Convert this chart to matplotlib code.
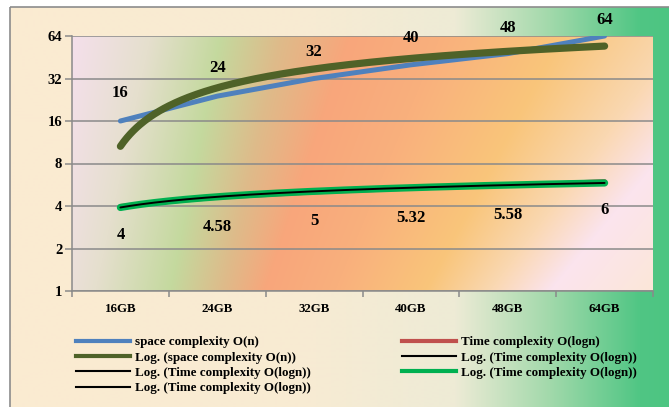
import numpy as np
import matplotlib
matplotlib.use("Agg")
import matplotlib.pyplot as plt
from matplotlib.colors import to_rgb
from matplotlib.lines import Line2D
from matplotlib.patches import Rectangle

W, H = 669, 407

# data
categories = ["16GB", "24GB", "32GB", "40GB", "48GB", "64GB"]
space_n = [16, 24, 32, 40, 48, 64]
time_logn = [4, 4.58, 5, 5.32, 5.58, 6]
space_labels = ["16", "24", "32", "40", "48", "64"]
time_labels = ["4", "4.58", "5", "5.32", "5.58", "6"]
y_ticks = [1, 2, 4, 8, 16, 32, 64]

BLUE = "#4F81BD"
OLIVE = "#4F6228"
RED = "#C0504D"
GREEN = "#00B050"
GRID = "#8A8A8A"

SERIF = ["Liberation Serif", "DejaVu Serif"]
plt.rcParams["font.family"] = SERIF
plt.rcParams["font.weight"] = "bold"

# plot area in pixels (left, top, right, bottom)
PL, PT, PR, PB = 72, 36, 653, 291


def px_box(l, t, r, b):
    return [l / W, 1 - b / H, (r - l) / W, (b - t) / H]


def hgrad(stops, x):
    xs = [s[0] for s in stops]
    cols = np.array([to_rgb(s[1]) for s in stops])
    return np.stack([np.interp(x, xs, cols[:, k]) for k in range(3)], axis=-1)


fig = plt.figure(figsize=(W / 100, H / 100), dpi=100)
fig.patch.set_facecolor("white")

# chart area: cream fading into green on the right
bg = fig.add_axes([0, 0, 1, 1], zorder=-2)
bg.set_xlim(0, W)
bg.set_ylim(H, 0)
bg.axis("off")
outer_stops = [(0, "#FBEBD1"), (300, "#F8EBD3"), (455, "#EEEBD6"),
               (550, "#A2D9AB"), (640, "#50C684"), (669, "#4DC582")]
xs = np.arange(10, W + 1)
img = hgrad(outer_stops, xs)[None, :, :]
bg.imshow(img, extent=[10, W, H, 7], aspect="auto", interpolation="bilinear")
bg.add_patch(Rectangle((10, 7), W, H, fill=False, ec="#8C8C8C", lw=1.2))

# plot area: sunset gradient, stops drift left towards the bottom
inner = [  # colour, x at top, x at bottom
    ("#F7E0F0", 60, 20), ("#E5DFCD", 150, 95), ("#C4D99E", 220, 170),
    ("#DEBB8A", 280, 222), ("#F8A67B", 350, 265), ("#F9B07D", 440, 335),
    ("#F9C57A", 560, 425), ("#FAD8B2", 680, 490), ("#FBE4EE", 760, 550),
    ("#FBE8D0", 900, 690),
]
cols = np.array([to_rgb(c) for c, _, _ in inner])
px = np.arange(PL, PR)
rows = []
for v in np.linspace(0, 1, PB - PT):
    pos = [t + v * (b - t) for _, t, b in inner]
    rows.append(np.stack([np.interp(px, pos, cols[:, k]) for k in range(3)], axis=-1))
bga = fig.add_axes(px_box(PL, PT, PR, PB), zorder=-1)
bga.imshow(np.array(rows), aspect="auto", extent=[0, 1, 0, 1], interpolation="bilinear")
bga.axis("off")

ax = fig.add_axes(px_box(PL, PT, PR, PB), zorder=1)
ax.patch.set_alpha(0)

x = np.arange(len(categories))
xd = np.linspace(1, len(categories), 300)

# logarithmic trendlines fitted to each series
a_s, b_s = np.polyfit(np.log(x + 1), space_n, 1)
a_t, b_t = np.polyfit(np.log(x + 1), time_logn, 1)

kw = dict(solid_capstyle="round")
ax.plot(x, space_n, color=BLUE, lw=3.6, zorder=3, **kw)
ax.plot(xd - 1, a_s * np.log(xd) + b_s, color=OLIVE, lw=5.2, zorder=4, **kw)
ax.plot(x, time_logn, color=RED, lw=3.0, zorder=3, **kw)
ax.plot(xd - 1, a_t * np.log(xd) + b_t, color=GREEN, lw=5.2, zorder=4, **kw)
ax.plot(xd - 1, a_t * np.log(xd) + b_t, color="black", lw=1.4, zorder=5, **kw)

rise = [28, 28, 26, 27, 26, 16]
for xi, v, s, r in zip(x, space_n, space_labels, rise):
    ax.annotate(s, (xi, v), xytext=(0, r), textcoords="offset pixels",
                ha="center", va="center", fontsize=12, fontweight="bold")
for xi, v, s in zip(x, time_logn, time_labels):
    ax.annotate(s, (xi, v), xytext=(0, -29), textcoords="offset pixels",
                ha="center", va="center", fontsize=12, fontweight="bold")

ax.set_yscale("log", base=2)
ax.set_ylim(1, 64)
ax.set_yticks(y_ticks)
ax.set_yticklabels([str(t) for t in y_ticks], fontsize=10.5, fontweight="bold")
ax.minorticks_off()
ax.set_xlim(-0.5, len(categories) - 0.5)
ax.set_xticks(x)
ax.set_xticklabels(categories, fontsize=9.3, fontweight="bold")
ax.set_xticks(np.arange(len(categories) + 1) - 0.5, minor=True)
ax.tick_params(axis="x", which="major", length=0, pad=9)
ax.tick_params(axis="x", which="minor", length=4, color=GRID, width=1.1)
ax.tick_params(axis="y", length=5, color=GRID, width=1.1, pad=2)
ax.grid(axis="y", color=GRID, lw=1.1)
ax.set_axisbelow(True)
for s in ("top", "right"):
    ax.spines[s].set_visible(False)
for s in ("left", "bottom"):
    ax.spines[s].set_color(GRID)
    ax.spines[s].set_linewidth(1.1)

handles = [
    Line2D([], [], color=BLUE, lw=3),
    Line2D([], [], color=OLIVE, lw=3),
    Line2D([], [], color="black", lw=1.5),
    Line2D([], [], color="black", lw=1.5),
    Line2D([], [], color=RED, lw=3),
    Line2D([], [], color="black", lw=1.5),
    Line2D([], [], color=GREEN, lw=3),
]
labels = [
    "space complexity O(n)",
    "Log. (space complexity O(n))",
    "Log. (Time complexity O(logn))",
    "Log. (Time complexity O(logn))",
    "Time complexity O(logn)",
    "Log. (Time complexity O(logn))",
    "Log. (Time complexity O(logn))",
]
fig.legend(handles, labels, ncol=2, loc="upper left",
           bbox_to_anchor=(76 / W, 1 - 336 / H), frameon=False, borderpad=0,
           borderaxespad=0, handlelength=4.1, handletextpad=0.4,
           columnspacing=7.0, labelspacing=0.25,
           prop=dict(family=SERIF, weight="bold", size=9.4))

fig.savefig("out.png", dpi=100)
